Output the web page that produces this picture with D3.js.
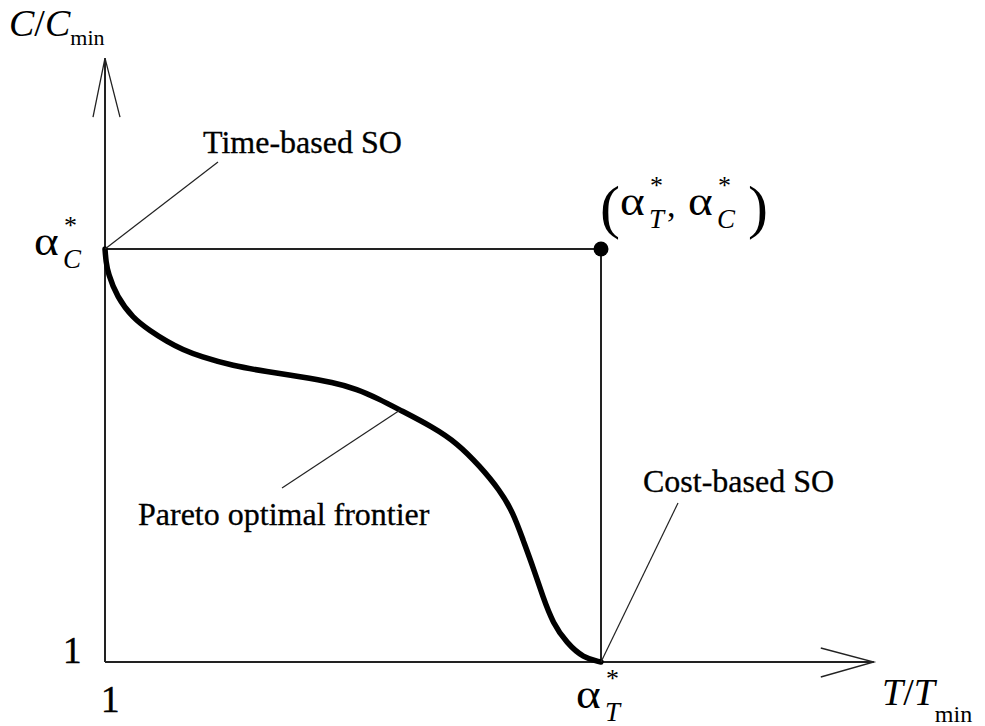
<!DOCTYPE html>
<html>
<head>
<meta charset="utf-8">
<script src="https://cdn.jsdelivr.net/npm/d3@7"></script>
<style>
  body { margin: 0; background: #fff; }
  text { font-family: "Liberation Serif", "Times New Roman", serif; fill: #000; }
</style>
</head>
<body>
<div id="chart"></div>
<script>
// normalised values: T/Tmin and C/Cmin, with alpha*_T = alpha*_C = 2
const alphaT = 2
const alphaC = 2
const axisEnd = [2.55, 2.462] // where the arrows stop

const frontierT = [1.000, 1.002, 1.006, 1.024, 1.056, 1.091, 1.125, 1.157, 1.192, 1.258, 1.327, 1.393, 1.460, 1.508, 1.552, 1.595, 1.661, 1.710, 1.756, 1.796, 1.823, 1.843, 1.863, 1.883, 1.903, 1.931, 1.964, 2.000]
const frontierC = [2.000, 1.969, 1.942, 1.884, 1.833, 1.802, 1.776, 1.756, 1.740, 1.717, 1.703, 1.691, 1.677, 1.661, 1.637, 1.610, 1.569, 1.530, 1.474, 1.416, 1.361, 1.295, 1.230, 1.157, 1.094, 1.046, 1.010, 1.000]

const labels = ['Time-based SO', 'Cost-based SO', 'Pareto optimal frontier']

window.onload = function () {
  const width = 985
  const height = 726

  const svg = d3.select('#chart')
    .append('svg')
    .attr('width', width)
    .attr('height', height)

  const x = d3.scaleLinear().domain([1, alphaT]).range([105, 601])
  const y = d3.scaleLinear().domain([1, alphaC]).range([662, 249])

  const ink = '#222'

  // axes
  svg.append('line')
    .attr('x1', x(1)).attr('y1', y(1))
    .attr('x2', x(axisEnd[0])).attr('y2', y(1))
    .attr('stroke', ink).attr('stroke-width', 2)
  svg.append('line')
    .attr('x1', x(1)).attr('y1', y(1))
    .attr('x2', x(1)).attr('y2', y(axisEnd[1]))
    .attr('stroke', ink).attr('stroke-width', 2)

  // open arrow heads
  const tipX = [x(axisEnd[0]), y(1)]
  svg.append('path')
    .attr('d', `M${tipX[0] - 53},${tipX[1] - 14}L${tipX[0]},${tipX[1]}L${tipX[0] - 53},${tipX[1] + 15}`)
    .attr('fill', 'none').attr('stroke', ink).attr('stroke-width', 1.3)
  const tipY = [x(1), y(axisEnd[1])]
  svg.append('path')
    .attr('d', `M${tipY[0] - 12},${tipY[1] + 59}L${tipY[0]},${tipY[1]}L${tipY[0] + 15},${tipY[1] + 59}`)
    .attr('fill', 'none').attr('stroke', ink).attr('stroke-width', 1.3)

  // the alpha* box lines
  svg.append('line')
    .attr('x1', x(1)).attr('y1', y(alphaC))
    .attr('x2', x(alphaT)).attr('y2', y(alphaC))
    .attr('stroke', ink).attr('stroke-width', 2)
  svg.append('line')
    .attr('x1', x(alphaT)).attr('y1', y(alphaC))
    .attr('x2', x(alphaT)).attr('y2', y(1))
    .attr('stroke', ink).attr('stroke-width', 2)

  // frontier
  const pts = frontierT.map((t, i) => [t, frontierC[i]])
  svg.append('path')
    .datum(pts)
    .attr('d', d3.line().x(d => x(d[0])).y(d => y(d[1])).curve(d3.curveBasis))
    .attr('fill', 'none')
    .attr('stroke', '#000')
    .attr('stroke-width', 5.5)
    .attr('stroke-linecap', 'round')

  svg.append('circle')
    .attr('cx', x(alphaT)).attr('cy', y(alphaC))
    .attr('r', 7.5)
    .attr('fill', '#000')

  // leader lines
  const leaders = [
    [x(1), y(alphaC), 218, 162],
    [x(alphaT), y(1), 678, 503],
    [282, 488, x(1.595), y(1.610)]
  ]
  svg.selectAll('.leader')
    .data(leaders)
    .enter().append('line')
    .attr('class', 'leader')
    .attr('x1', d => d[0]).attr('y1', d => d[1])
    .attr('x2', d => d[2]).attr('y2', d => d[3])
    .attr('stroke', ink).attr('stroke-width', 1.2)

  const labelPos = [[203, 153], [643, 492], [138, 525]]
  svg.selectAll('.lbl')
    .data(labels)
    .enter().append('text')
    .attr('class', 'lbl')
    .attr('x', (d, i) => labelPos[i][0])
    .attr('y', (d, i) => labelPos[i][1])
    .attr('font-size', 32)
    .attr('stroke', '#000').attr('stroke-width', 0.3)
    .text(d => d)

  // tick labels "1"
  svg.append('text').attr('x', x(1) - 42).attr('y', y(1) + 1)
    .attr('font-size', 37).attr('stroke', '#000').attr('stroke-width', 0.5).text('1')
  svg.append('text').attr('x', x(1) - 4).attr('y', y(1) + 50)
    .attr('font-size', 37).attr('stroke', '#000').attr('stroke-width', 0.5).text('1')

  // alpha with star and subscript, widened like the symbol font
  function alphaStar (g, ax, sub) {
    g.append('text').attr('transform', `translate(${ax},0) scale(1.18,1)`)
      .attr('font-size', 40).text('α')
    g.append('text').attr('x', ax + 30).attr('y', -21).attr('font-size', 26).text('*')
    g.append('text').attr('x', ax + 29).attr('y', 13).attr('font-size', 27)
      .attr('font-style', 'italic').text(sub)
  }
  alphaStar(svg.append('g').attr('transform', `translate(34,${y(alphaC) + 6})`), 0, 'C')
  alphaStar(svg.append('g').attr('transform', `translate(576,${y(1) + 46})`), 0, 'T')

  // (alpha*_T, alpha*_C) at the point
  const pg = svg.append('g').attr('transform', `translate(600,${y(alphaC) - 34})`)
  pg.append('text').attr('x', 0).attr('y', 12).attr('font-size', 60)
    .attr('font-weight', 300).text('(')
  pg.append('text').attr('x', 148).attr('y', 12).attr('font-size', 60)
    .attr('font-weight', 300).text(')')
  alphaStar(pg, 20, 'T')
  alphaStar(pg, 88, 'C')
  pg.append('text').attr('x', 67).attr('y', 2).attr('font-size', 34).text(',')

  // axis titles
  const yt = svg.append('text').attr('x', 9).attr('y', 36).attr('font-size', 38)
  yt.append('tspan').attr('font-style', 'italic').text('C')
  yt.append('tspan').text('/')
  yt.append('tspan').attr('font-style', 'italic').text('C')
  yt.append('tspan').attr('font-size', 22).attr('dy', 9).text('min')

  const xt = svg.append('text').attr('x', 882).attr('y', 705).attr('font-size', 38)
  xt.append('tspan').attr('font-style', 'italic').text('T')
  xt.append('tspan').text('/')
  xt.append('tspan').attr('font-style', 'italic').text('T')
  xt.append('tspan').attr('font-size', 24).attr('dy', 17).text('min')
}
</script>
</body>
</html>
